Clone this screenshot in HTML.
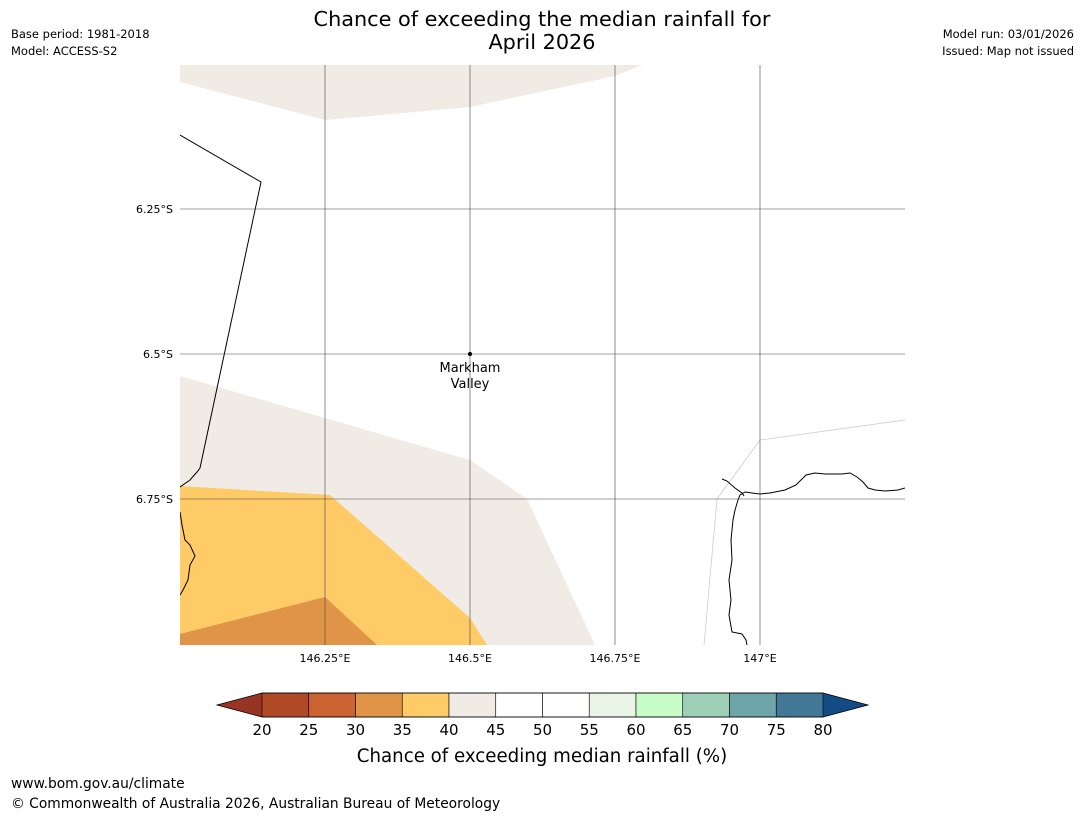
<!DOCTYPE html>
<html><head><meta charset="utf-8"><style>
body{margin:0;background:#fff;width:1085px;height:816px;overflow:hidden;font-family:"Liberation Sans","DejaVu Sans",sans-serif}
svg{position:absolute;left:0;top:0}
</style></head><body>
<svg width="1085" height="816" xmlns="http://www.w3.org/2000/svg" font-family="DejaVu Sans, Liberation Sans, sans-serif">
<text x="542" y="26" font-size="20.8" text-anchor="middle">Chance of exceeding the median rainfall for</text>
<text x="542" y="49" font-size="20.8" text-anchor="middle">April 2026</text>
<text x="11" y="38" font-size="11.5">Base period: 1981-2018</text>
<text x="11" y="55" font-size="11.5">Model: ACCESS-S2</text>
<text x="1074" y="38" font-size="11.5" text-anchor="end">Model run: 03/01/2026</text>
<text x="1074" y="55" font-size="11.5" text-anchor="end">Issued: Map not issued</text>

<g>
<clipPath id="c"><rect x="180" y="65" width="725" height="580"/></clipPath>
<g clip-path="url(#c)">
<polygon points="180,82 325,120 470,107 615,76 642,65 180,65" fill="#f0ebe5"/>
<polygon points="180,376 470,460 527,499 595,645 180,645" fill="#f0ebe5"/>
<polygon points="180,486 330,495 470,618 487,645 180,645" fill="#fecb67"/>
<polygon points="180,634 325,597 377,645 180,645" fill="#e09448"/>
<polyline points="704,645 717,499 760,440 905,420" fill="none" stroke="#ccc" stroke-width="0.8"/>
<polyline points="180,135 261,182 200,468 197,472 190,480 180,487" fill="none" stroke="#000" stroke-width="1"/>
<polyline points="180,512 182,525 185,540 190,545 195,556 190,565 188,580 183,590 180,595" fill="none" stroke="#000" stroke-width="1"/>
<polyline points="905,488 898,490 885,491 875,490 868,488 863,482 857,477 850,473 842,474 825,474 815,473 806,475 796,485 785,490 770,493 760,494 752,493 745,492 740,495 738,500 735,510 733,520 731,540 732,560 729,580 731,600 729,615 732,632 742,634 746,640 747,645" fill="none" stroke="#000" stroke-width="1"/>
<polyline points="722,479 727,481 735,488 742,493 744,496" fill="none" stroke="#000" stroke-width="1"/>
</g>
<g stroke="#444" stroke-width="0.6">
<line x1="325" y1="65" x2="325" y2="645"/><line x1="470" y1="65" x2="470" y2="645"/>
<line x1="615" y1="65" x2="615" y2="645"/><line x1="760" y1="65" x2="760" y2="645"/>
<line x1="180" y1="209" x2="905" y2="209"/><line x1="180" y1="354" x2="905" y2="354"/><line x1="180" y1="499" x2="905" y2="499"/>
</g>
<g font-size="11">
<text x="173" y="213" text-anchor="end">6.25°S</text>
<text x="173" y="358" text-anchor="end">6.5°S</text>
<text x="173" y="503" text-anchor="end">6.75°S</text>
</g>
<g font-size="11" text-anchor="middle">
<text x="325" y="662">146.25°E</text><text x="470" y="662">146.5°E</text>
<text x="615" y="662">146.75°E</text><text x="760" y="662">147°E</text>
</g>
<circle cx="470" cy="354" r="2" fill="#000"/>
<text x="470" y="372" font-size="13" text-anchor="middle">Markham</text>
<text x="470" y="388" font-size="13" text-anchor="middle">Valley</text>
</g>
<g id="cbar"></g>
<text x="542" y="762" font-size="18.2" text-anchor="middle">Chance of exceeding median rainfall (%)</text>
<text x="11" y="788" font-size="13.8">www.bom.gov.au/climate</text>
<text x="11" y="808" font-size="13.8">© Commonwealth of Australia 2026, Australian Bureau of Meteorology</text>
</svg>
<script>
const binEdges=[20,25,30,35,40,45,50,55,60,65,70,75,80];
const binColors=["#b04a26","#cb6232","#e09448","#fecb67","#f0ebe5","#ffffff","#ffffff","#eaf5e8","#c8fcc8","#9dd0b7","#6ea5a8","#427895"];
const cx=v=>262+(v-20)*(823-262)/60;
const g=document.getElementById('cbar');const NS="http://www.w3.org/2000/svg";
const y0=693,h=24;
function mk(t,a){const e=document.createElementNS(NS,t);for(const k in a)e.setAttribute(k,a[k]);g.appendChild(e);return e;}
let lt=mk('polygon',{points:`217,705 ${cx(20)},${y0} ${cx(20)},${y0+h}`,fill:'#973424'});


let rt=mk('polygon',{points:`868,705 ${cx(80)},${y0} ${cx(80)},${y0+h}`,fill:'#134c85'});


for(let i=0;i<binColors.length;i++){
 const r=mk('rect',{x:cx(binEdges[i]),y:y0,width:cx(binEdges[i+1])-cx(binEdges[i]),height:h,fill:binColors[i],stroke:'#000','stroke-width':0.6});
 
 
}
mk('polygon',{points:`217,705 ${cx(20)},${y0} ${cx(80)},${y0} 868,705 ${cx(80)},${y0+h} ${cx(20)},${y0+h}`,fill:'none',stroke:'#000','stroke-width':0.8});
binEdges.forEach(v=>{const t=mk('text',{x:cx(v),y:735,'font-size':15,'text-anchor':'middle'});t.textContent=v;
 
 });
</script>
</body></html>
